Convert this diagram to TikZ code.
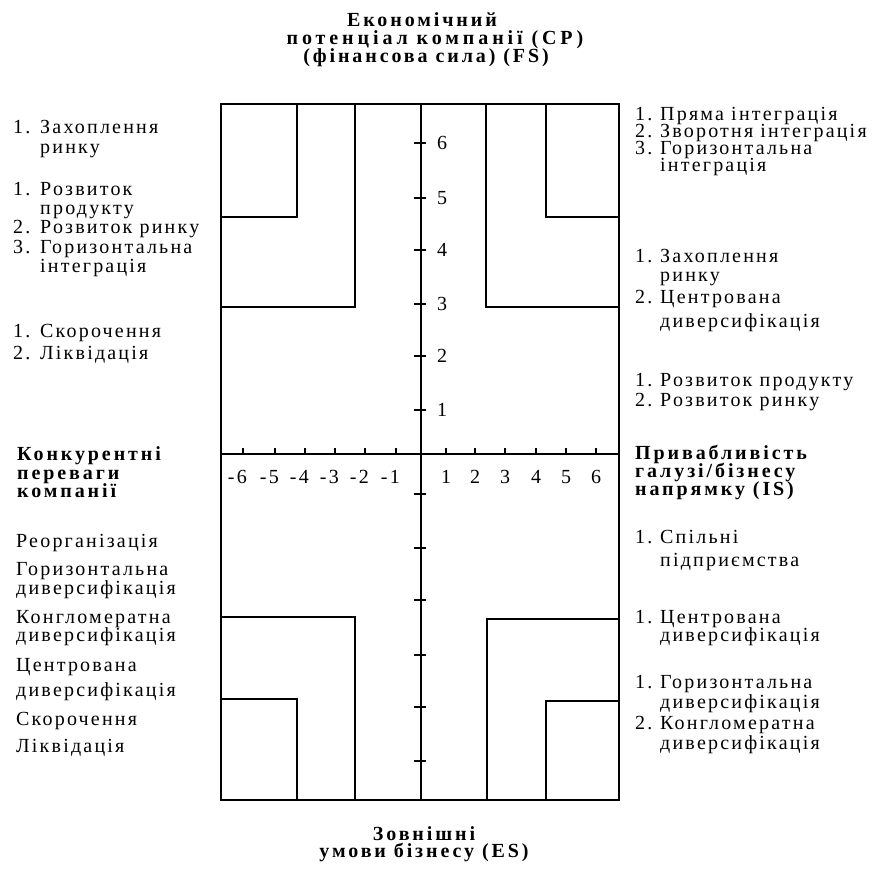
\documentclass[tikz,border=0pt]{standalone}
\usepackage{fontspec}
\setmainfont{Liberation Serif}[LetterSpace=11]
\newfontfamily\hdfont{Liberation Serif}[LetterSpace=14.5]
\newfontfamily\hdwide{Liberation Serif}[LetterSpace=19.5]
\newcommand\NumL[1]{\makebox[27pt][l]{#1}}
\newcommand\NumR[1]{\makebox[25pt][l]{#1}}
\begin{document}
\begin{tikzpicture}[x=1pt,y=-1pt,
  ln/.style={line width=1.4pt,black},
  txt/.style={anchor=base west,inner sep=0pt,font=\fontsize{20}{20}\selectfont},
  hd/.style={anchor=base,inner sep=0pt,font=\hdfont\bfseries\fontsize{20}{20}\selectfont},
  hdl/.style={anchor=base west,inner sep=0pt,font=\hdfont\bfseries\fontsize{20}{20}\selectfont},
  tick/.style={line width=1.2pt,black},
  lab/.style={inner sep=0pt,font=\fontsize{20}{20}\selectfont}]
\useasboundingbox (0,0) rectangle (879,876);
% frame and axes
\draw[ln] (221,104) rectangle (619,800);
\draw[ln] (421,104) -- (421,800);
\draw[ln] (221,454) -- (619,454);
% y ticks
\foreach \yy/\t in {143/6,198/5,250/4,304/3,356/2,410/1}{
  \draw[tick] (414,\yy) -- (426,\yy);
  \node[lab,anchor=center] (ly\t) at (442,\yy) {\t};
}
\foreach \yy in {494,548,600,655,707,761}{
  \draw[tick] (414,\yy) -- (426,\yy);
}
% x ticks
\foreach \xx/\t in {243/6,275/5,305/4,335/3,365/2,396/1}{
  \draw[tick] (\xx,448) -- (\xx,454);
  \node[lab,anchor=base east] (lxm\t) at (\xx+4,483) {-\t};
}
\foreach \xx/\t in {446/1,475/2,505/3,536/4,566/5,596/6}{
  \draw[tick] (\xx,448) -- (\xx,454);
  \node[lab,anchor=base] (lxp\t) at (\xx,483) {\t};
}
% regions top-left
\draw[ln] (297,104) -- (297,217) -- (221,217);
\draw[ln] (355,104) -- (355,307) -- (221,307);
% top-right
\draw[ln] (486,104) -- (486,307) -- (619,307);
\draw[ln] (546,104) -- (546,217) -- (619,217);
% bottom-left
\draw[ln] (221,617) -- (355,617) -- (355,800);
\draw[ln] (221,699) -- (297,699) -- (297,800);
% bottom-right
\draw[ln] (487,801) -- (487,619) -- (619,619);
\draw[ln] (546,801) -- (546,701) -- (619,701);
% titles
\node[hd] (t1) at (422,26) {Економічний};
\node[hd,font=\hdwide\bfseries\fontsize{20}{20}\selectfont] (t2) at (435,44.5) {потенціал компанії (CP)};
\node[hd] (t3) at (426,62) {(фінансова сила) (FS)};
\node[hd] (b1) at (424,840) {Зовнішні};
\node[hd] (b2) at (424,857) {умови бізнесу (ES)};
\node[hdl] (l1) at (17,460) {Конкурентні};
\node[hdl] (l2) at (17,479) {переваги};
\node[hdl] (l3) at (17,497) {компанії};
\node[hdl] (r1) at (635,459) {Привабливість};
\node[hdl] (r2) at (635,477) {галузі/бізнесу};
\node[hdl] (r3) at (635,495) {напрямку (IS)};
% left top
\node[txt] (a1) at (13,133) {\NumL{1.}Захоплення};
\node[txt] (a2) at (40,153) {ринку};
\node[txt] (a3) at (13,195) {\NumL{1.}Розвиток};
\node[txt] (a4) at (40,214) {продукту};
\node[txt] (a5) at (13,233) {\NumL{2.}Розвиток ринку};
\node[txt] (a6) at (13,253) {\NumL{3.}Горизонтальна};
\node[txt] (a7) at (40,272) {інтеграція};
\node[txt] (a8) at (13,337) {\NumL{1.}Скорочення};
\node[txt] (a9) at (13,359) {\NumL{2.}Ліквідація};
% left bottom
\node[txt] (c1) at (16,547) {Реорганізація};
\node[txt] (c2) at (16,575) {Горизонтальна};
\node[txt] (c3) at (16,594) {диверсифікація};
\node[txt] (c4) at (16,623) {Конгломератна};
\node[txt] (c5) at (16,641) {диверсифікація};
\node[txt] (c6) at (16,671) {Центрована};
\node[txt] (c7) at (16,696) {диверсифікація};
\node[txt] (c8) at (16,725) {Скорочення};
\node[txt] (c9) at (16,752) {Ліквідація};
% right top
\node[txt] (d1) at (635,120) {\NumR{1.}Пряма інтеграція};
\node[txt] (d2) at (635,137) {\NumR{2.}Зворотня інтеграція};
\node[txt] (d3) at (635,154) {\NumR{3.}Горизонтальна};
\node[txt] (d4) at (660,171) {інтеграція};
\node[txt] (d5) at (635,262) {\NumR{1.}Захоплення};
\node[txt] (d6) at (660,281) {ринку};
\node[txt] (d7) at (635,303) {\NumR{2.}Центрована};
\node[txt] (d8) at (660,327) {диверсифікація};
\node[txt] (d9) at (635,386) {\NumR{1.}Розвиток продукту};
\node[txt] (d10) at (635,406) {\NumR{2.}Розвиток ринку};
% right bottom
\node[txt] (e1) at (635,543) {\NumR{1.}Спільні};
\node[txt] (e2) at (660,566) {підприємства};
\node[txt] (e3) at (635,623) {\NumR{1.}Центрована};
\node[txt] (e4) at (660,641) {диверсифікація};
\node[txt] (e5) at (635,688) {\NumR{1.}Горизонтальна};
\node[txt] (e6) at (660,708) {диверсифікація};
\node[txt] (e7) at (635,729) {\NumR{2.}Конгломератна};
\node[txt] (e8) at (660,749) {диверсифікація};
\end{tikzpicture}
\end{document}
